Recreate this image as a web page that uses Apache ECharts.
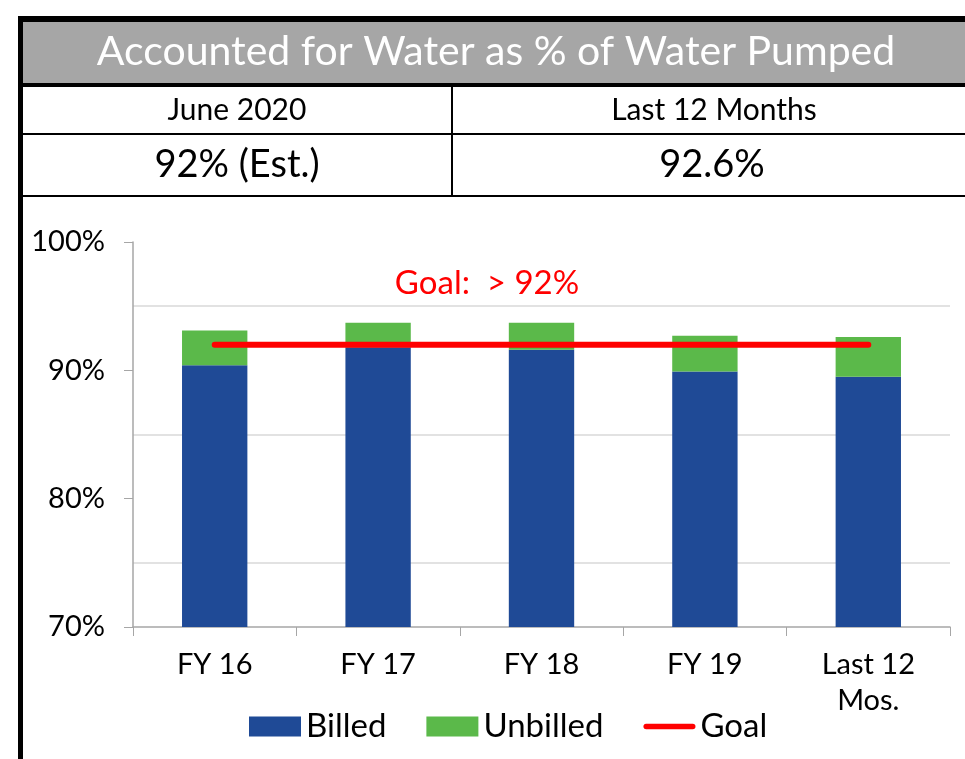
<!DOCTYPE html>
<html>
<head>
<meta charset="utf-8">
<script src="https://cdn.jsdelivr.net/npm/echarts@6/dist/echarts.min.js"></script>
<style>
  html, body { margin: 0; padding: 0; background: #fff; }
  #main { width: 965px; height: 759px; }
</style>
</head>
<body>
<div id="main"></div>
<script>
// chart data
var categories = ['FY 16', 'FY 17', 'FY 18', 'FY 19', 'Last 12\nMos.'];
var billed = [90.4, 91.8, 91.6, 89.9, 89.5];
var unbilled = [2.7, 1.9, 2.1, 2.8, 3.1];
var goal = [92, 92, 92, 92, 92];
var gridLevels = [75, 85, 95];

var titleText = 'Accounted for Water as % of Water Pumped';
var headers = ['June 2020', 'Last 12 Months'];
var values = ['92% (Est.)', '92.6%'];
var goalLabel = 'Goal:  > 92%';

var FONT = 'Lato';
var chart = echarts.init(document.getElementById('main'));

var option = {
    animation: false,
    textStyle: { fontFamily: FONT },
    grid: { left: 133, right: 15, top: 242, bottom: 132 },
    legend: {
        left: 244,
        top: 705,
        itemWidth: 52,
        itemHeight: 20,
        itemGap: 40,
        textStyle: { fontSize: 33, color: '#000', fontFamily: FONT },
        data: [
            { name: 'Billed', icon: 'rect' },
            { name: 'Unbilled', icon: 'rect' },
            { name: 'Goal', icon: 'path://M3,0 L55,0 A3,3 0 0 1 55,6 L3,6 A3,3 0 0 1 3,0 Z' }
        ]
    },
    xAxis: {
        type: 'category',
        data: categories,
        axisLine: { lineStyle: { color: '#a6a6a6', width: 1.5 } },
        axisTick: { show: true, length: 9, lineStyle: { color: '#a6a6a6' } },
        axisLabel: { fontSize: 29, color: '#000', margin: 20, lineHeight: 36 }
    },
    yAxis: {
        type: 'value',
        min: 70,
        max: 100,
        interval: 10,
        splitLine: { show: false },
        axisLine: { show: true, lineStyle: { color: '#a6a6a6', width: 1.5 } },
        axisTick: { show: true, length: 9, lineStyle: { color: '#a6a6a6' } },
        axisLabel: { fontSize: 29, color: '#000', margin: 28, formatter: '{value}%' }
    },
    series: [
        {
            name: 'Billed',
            type: 'bar',
            stack: 'total',
            barWidth: '40%',
            itemStyle: { color: '#1f4a96' },
            data: billed,
            markLine: {
                silent: true,
                symbol: ['none', 'none'],
                label: { show: false },
                lineStyle: { color: '#d9d9d9', width: 1.5, type: 'solid' },
                data: gridLevels.map(function (v) { return { yAxis: v }; }),
                z: 0
            },
            z: 2
        },
        {
            name: 'Unbilled',
            type: 'bar',
            stack: 'total',
            itemStyle: { color: '#5bb94a' },
            data: unbilled,
            z: 2
        },
        {
            name: 'Goal',
            type: 'line',
            data: goal,
            symbol: 'none',
            itemStyle: { color: '#ff0000' },
            lineStyle: { color: '#ff0000', width: 6, cap: 'round' },
            z: 5
        }
    ],
    graphic: [
        // header table
        { type: 'rect', shape: { x: 23, y: 22, width: 942, height: 61 }, style: { fill: '#a6a6a6' } },
        { type: 'rect', shape: { x: 18, y: 16, width: 947, height: 6 }, style: { fill: '#000' } },
        { type: 'rect', shape: { x: 18, y: 16, width: 5, height: 743 }, style: { fill: '#000' } },
        { type: 'rect', shape: { x: 18, y: 83, width: 947, height: 4 }, style: { fill: '#000' } },
        { type: 'rect', shape: { x: 18, y: 133, width: 947, height: 2 }, style: { fill: '#000' } },
        { type: 'rect', shape: { x: 18, y: 195, width: 947, height: 2 }, style: { fill: '#000' } },
        { type: 'rect', shape: { x: 451, y: 87, width: 2, height: 110 }, style: { fill: '#000' } },
        {
            type: 'text', x: 496, y: 52,
            style: { text: titleText, fill: '#fff', font: '41px ' + FONT, align: 'center', verticalAlign: 'middle' }
        },
        {
            type: 'text', x: 237, y: 110,
            style: { text: headers[0], fill: '#000', font: '30px ' + FONT, align: 'center', verticalAlign: 'middle' }
        },
        {
            type: 'text', x: 714, y: 110,
            style: { text: headers[1], fill: '#000', font: '30px ' + FONT, align: 'center', verticalAlign: 'middle' }
        },
        {
            type: 'text', x: 237, y: 165,
            style: { text: values[0], fill: '#000', font: '38px ' + FONT, align: 'center', verticalAlign: 'middle' }
        },
        {
            type: 'text', x: 712, y: 165,
            style: { text: values[1], fill: '#000', font: '38px ' + FONT, align: 'center', verticalAlign: 'middle' }
        },
        // goal annotation
        {
            type: 'text', x: 487, y: 283,
            style: { text: goalLabel, fill: '#ff0000', font: '33px ' + FONT, align: 'center', verticalAlign: 'middle' }
        }
    ]
};

chart.setOption(option);
</script>
</body>
</html>
